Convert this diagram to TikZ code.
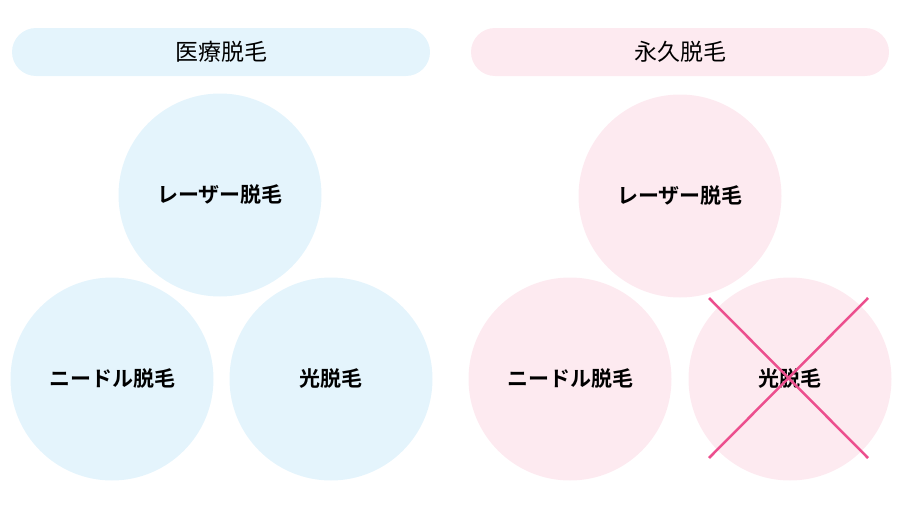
\documentclass[tikz,border=0pt]{standalone}
\usepackage{fontspec}
\setmainfont{Noto Sans CJK JP}
\newfontfamily\jpb{Noto Sans CJK JP Bold}
\definecolor{lb}{HTML}{E4F4FC}
\definecolor{lp}{HTML}{FDEAF0}
\definecolor{xp}{HTML}{EC4F8E}
\begin{document}
\begin{tikzpicture}[x=1pt,y=-1pt,
 hdr/.style={rounded corners=24pt,minimum width=418pt,minimum height=48pt,inner sep=0pt,font=\fontsize{23}{23}\selectfont},
 circ/.style={circle,minimum size=203pt,inner sep=0pt,font=\jpb\fontsize{21}{21}\selectfont}]
\useasboundingbox (0,0) rectangle (900,506);
\node[hdr,fill=lb] (h1) at (221,52) {医療脱毛};
\node[hdr,fill=lp] (h2) at (680,52) {永久脱毛};
\node[circ,fill=lb] (a1) at (220,195) {レーザー脱毛};
\node[circ,fill=lb] (a2) at (112,379) {ニードル脱毛};
\node[circ,fill=lb] (a3) at (331,379) {光脱毛};
\node[circ,fill=lp] (b1) at (680,196) {レーザー脱毛};
\node[circ,fill=lp] (b2) at (570,379) {ニードル脱毛};
\node[circ,fill=lp] (b3) at (790,379) {光脱毛};
\coordinate (c1) at (709,298); \coordinate (c2) at (868,458);
\coordinate (c3) at (868,298); \coordinate (c4) at (709,458);
\draw[xp,line width=2.5pt] (c1)--(c2) (c3)--(c4);
\end{tikzpicture}
\end{document}
